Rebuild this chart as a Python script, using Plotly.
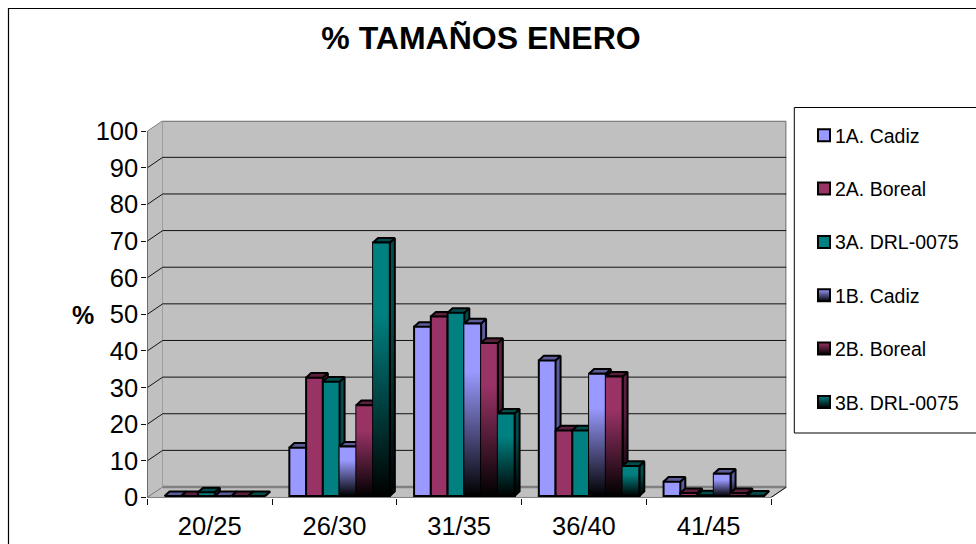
import plotly.graph_objects as go

categories = ["20/25", "26/30", "31/35", "36/40", "41/45"]
series_names = ["1A. Cadiz", "2A. Boreal", "3A. DRL-0075", "1B. Cadiz", "2B. Boreal", "3B. DRL-0075"]
v_1a = [0, 13.2, 46.2, 37.0, 3.9]
v_2a = [0, 32.3, 49.0, 17.9, 0.8]
v_3a = [1, 31.2, 50.0, 17.9, 0.2]
v_1b = [0, 13.5, 47.1, 33.4, 6.1]
v_2b = [0, 24.8, 41.8, 32.6, 0.8]
v_3b = [0, 69.2, 22.5, 8.2, 0.1]
all_values = [v_1a, v_2a, v_3a, v_1b, v_2b, v_3b]
face_colors = ["#9999FF", "#993366", "#008080", "#9999FF", "#993366", "#008080"]
shade_colors = ["#5C5C99", "#5C1F3D", "#004D4D", "#5C5C99", "#5C1F3D", "#004D4D"]
gradient_flags = [False, False, False, True, True, True]
y_ticks = list(range(0, 101, 10))

W, H = 976, 544
# pixel geometry of the pseudo-3D box
FX0, FX1 = 147.3, 771.0     # front x of the floor
DX, DY = 15.4, 10.5         # wall depth
FY0, FY100 = 497.5, 131.2   # front y of 0 and 100
CAT = (FX1 - FX0) / 5
UNIT = (FY0 - FY100) / 100
ddx, ddy = DX / CAT, DY / UNIT
xmax = 4.5 + ddx
ymax = 100 + ddy
BASE_SHIFT = 1.5 / UNIT
BAR_L = 17.3 / CAT
BAR_W = 16.75 / CAT
BDX, BDY = 5 / CAT, 4.6 / UNIT
LINE = 2.0

fig = go.Figure()


def poly(xs, ys, fill, line="#000000", width=LINE, xa="x", ya="y", grad=None):
    kw = dict(fillcolor=fill) if grad is None else dict(fillgradient=grad)
    fig.add_trace(go.Scatter(x=xs, y=ys, mode="lines", fill="toself", xaxis=xa, yaxis=ya,
                             line=dict(color=line, width=width), hoverinfo="skip",
                             showlegend=False, **kw))


# walls and floor
poly([-0.5, -0.5 + ddx, -0.5 + ddx, -0.5], [0, ddy, ymax, 100], "#C0C0C0", "#808080", 1)
poly([-0.5, -0.5 + ddx, xmax, 4.5], [0, ddy, ddy, 0], "#C0C0C0", "#808080", 1)
poly([-0.5 + ddx, xmax, xmax, -0.5 + ddx], [ddy, ddy, ymax, ymax], "#C0C0C0", "#808080", 2.4)

# gridlines over walls
gx, gy = [], []
for t in y_ticks[1:-1]:
    gx += [-0.5, -0.5 + ddx, xmax, None]
    gy += [t, t + ddy, t + ddy, None]
fig.add_trace(go.Scatter(x=gx, y=gy, mode="lines", line=dict(color="#111111", width=1),
                         hoverinfo="skip", showlegend=False))

# front edges of the box
fig.add_trace(go.Scatter(x=[-0.5, -0.5, None, -0.5, 4.5, xmax],
                         y=[100, 0, None, 0, 0, ddy], mode="lines",
                         line=dict(color="#111111", width=1), hoverinfo="skip", showlegend=False))

# depth faces of the bars
for k in range(5):
    for i, vals in enumerate(all_values):
        v = vals[k] + BASE_SHIFT
        l = k - 0.5 + BAR_L + i * BAR_W
        r = l + BAR_W
        grad = None
        if gradient_flags[i]:
            grad = dict(type="vertical", start=BASE_SHIFT, stop=max(v, BASE_SHIFT + 0.5),
                        colorscale=[[0, "#000000"], [0.72, shade_colors[i]], [1, shade_colors[i]]])
        poly([r, r + BDX, r + BDX, r], [v, v + BDY, BASE_SHIFT + BDY, BASE_SHIFT], shade_colors[i], grad=grad)
        poly([l, l + BDX, r + BDX, r], [v, v + BDY, v + BDY, v], shade_colors[i])

# front faces: real bars on an overlaid pair of axes
for i, vals in enumerate(all_values):
    fig.add_trace(go.Bar(x=list(range(5)), y=vals, name=series_names[i], xaxis="x2", yaxis="y2",
                         width=BAR_W, offset=-0.5 + BAR_L + i * BAR_W,
                         marker=dict(color=face_colors[i], line=dict(color="#000000", width=LINE)),
                         showlegend=False, hoverinfo="x+y+name"))
for i, vals in enumerate(all_values):
    if gradient_flags[i]:
        for k, val in enumerate(vals):
            if val > 0.5:
                l = k - 0.5 + BAR_L + i * BAR_W
                r = l + BAR_W
                poly([l, r, r, l], [0, 0, val, val], face_colors[i], xa="x2", ya="y2",
                     grad=dict(type="vertical", start=0, stop=val,
                               colorscale=[[0, "#000000"], [0.72, face_colors[i]], [1, face_colors[i]]]))

# legend entries
for i, name in enumerate(series_names):
    m = dict(symbol="square", size=12, color=face_colors[i], line=dict(color="#000000", width=2))
    if gradient_flags[i]:
        m["gradient"] = dict(type="vertical", color="#000000")
    fig.add_trace(go.Scatter(x=[None], y=[None], mode="markers", name=name, marker=m,
                             legendgroup=name, showlegend=True, hoverinfo="skip"))

axis_font = dict(family="Liberation Sans", size=25.5, color="#000000")
fig.update_layout(
    width=W, height=H, margin=dict(l=0, r=0, t=0, b=0, pad=0, autoexpand=False),
    paper_bgcolor="#FFFFFF", plot_bgcolor="rgba(0,0,0,0)", barmode="overlay",
    font=dict(family="Liberation Sans", color="#000000"),
    title=dict(text="<b>% TAMAÑOS ENERO</b>", x=481 / W, xanchor="center", y=1 - 38 / H, yanchor="middle",
               font=dict(family="Liberation Sans", size=32, color="#000000")),
    xaxis=dict(domain=[FX0 / W, (FX1 + DX) / W], range=[-0.5, xmax], tickmode="array",
               tickvals=list(range(5)), ticktext=categories, ticks="", showgrid=False, zeroline=False,
               showline=False, tickfont=axis_font, ticklabelstandoff=11,
               minor=dict(tickmode="array", tickvals=[k - 0.5 for k in range(6)], ticks="outside",
                          ticklen=6, tickcolor="#111111", tickwidth=1, showgrid=False)),
    yaxis=dict(domain=[(H - FY0) / H, (H - FY100 + DY) / H], range=[0, ymax], tickmode="array",
               tickvals=y_ticks, ticks="outside", ticklen=5, tickcolor="#111111", tickwidth=1,
               showgrid=False, zeroline=False, showline=False, tickfont=axis_font, ticklabelstandoff=-2),
    xaxis2=dict(overlaying="x", matches=None, range=[-0.5, xmax], visible=False, anchor="y2"),
    yaxis2=dict(overlaying="y", range=[-BASE_SHIFT, ymax - BASE_SHIFT], visible=False, anchor="x2"),
    legend=dict(x=795 / W, xanchor="left", y=1 - 116 / H, yanchor="top", tracegroupgap=25,
                bgcolor="rgba(0,0,0,0)", borderwidth=0, traceorder="grouped",
                font=dict(family="Liberation Sans", size=19.5, color="#000000")),
    annotations=[dict(text="<b>%</b>", x=83 / W, y=1 - 315 / H, xref="paper", yref="paper",
                      showarrow=False, xanchor="center", yanchor="middle",
                      font=dict(family="Liberation Sans", size=25, color="#000000"))],
    shapes=[
        dict(type="rect", xref="paper", yref="paper", x0=8.5 / W, x1=1.02, y0=-0.02, y1=1 - 8.5 / H,
             line=dict(color="#000000", width=1.2), layer="below"),
        dict(type="rect", xref="paper", yref="paper", x0=794.3 / W, x1=1.02, y0=1 - 433 / H, y1=1 - 107.5 / H,
             line=dict(color="#000000", width=1), fillcolor="#FFFFFF", layer="below"),
    ],
)

shift_swatches = ("document.body.style.margin='0';"
                  "document.querySelectorAll('.legend .legendpoints')"
                  ".forEach(function(g){g.setAttribute('transform','translate(9,0)');});")
fig.write_html("out.html", post_script=shift_swatches, config=dict(displayModeBar=False))
